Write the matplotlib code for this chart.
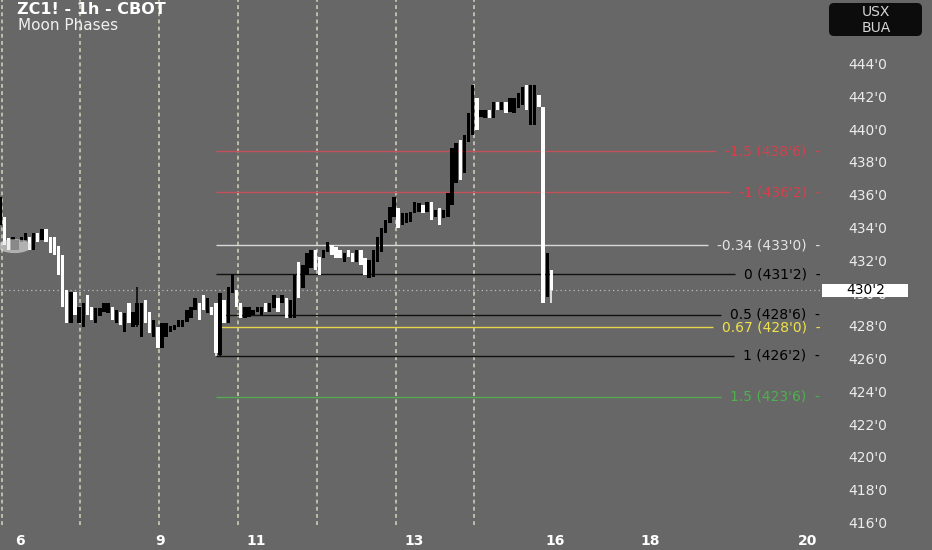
import matplotlib
matplotlib.use('Agg')
import matplotlib.pyplot as plt
import matplotlib.transforms as mtransforms
from matplotlib.patches import FancyBboxPatch, Rectangle, Ellipse

# ZC1! 1h candles (white = down bar, black = up bar)
opens = [434.24, 434.73, 433.45, 432.72, 432.72, 433.21, 433.33, 433.51, 432.72, 433.76,
         433.33, 434.00, 433.51, 433.51, 432.96, 432.41, 430.28, 428.26, 430.16, 428.26,
         428.02, 429.97, 429.24, 428.26, 428.69, 428.94, 428.87, 429.24, 428.26, 428.94,
         427.71, 429.48, 428.02, 428.14, 427.41, 429.67, 428.94, 427.41, 428.02, 426.74,
         427.41, 427.71, 427.84, 428.02, 428.02, 428.32, 428.57, 429.06, 429.48, 429.97,
         428.87, 429.24, 429.48, 426.31, 429.67, 428.26, 430.09, 430.28, 429.48, 428.57,
         428.63, 428.75, 428.94, 428.75, 429.48, 428.94, 429.18, 429.79, 429.48, 429.79,
         428.57, 428.57, 431.99, 430.40, 431.19, 431.62, 432.72, 432.29, 432.23, 432.60,
         433.02, 432.90, 432.72, 431.99, 432.72, 432.53, 431.99, 432.72, 432.23, 431.01,
         431.07, 431.99, 432.60, 433.76, 434.37, 434.73, 435.28, 434.24, 434.37, 434.43,
         434.98, 435.04, 435.46, 435.04, 435.65, 434.73, 435.28, 434.67, 434.73, 435.46,
         436.81, 439.43, 437.42, 439.31, 439.73, 441.99, 440.83, 440.77, 441.26, 440.77,
         441.75, 441.26, 441.75, 441.14, 441.08, 441.38, 441.56, 442.78, 440.34, 440.34,
         442.17, 441.44, 429.85, 431.50]
closes = [435.95, 433.02, 432.72, 433.51, 433.33, 433.51, 433.76, 432.72, 433.76, 433.21,
          434.00, 433.21, 432.53, 432.41, 431.19, 429.24, 428.26, 430.16, 428.75, 429.24,
          429.48, 428.75, 428.45, 429.18, 429.18, 429.48, 429.48, 428.45, 429.06, 428.14,
          428.87, 428.26, 428.94, 429.48, 429.48, 428.26, 427.65, 428.45, 426.74, 428.26,
          428.26, 428.08, 428.14, 428.45, 428.45, 429.06, 429.24, 429.79, 428.45, 429.06,
          429.79, 428.75, 426.43, 430.09, 428.26, 430.46, 431.19, 429.24, 428.57, 429.24,
          429.24, 429.06, 429.24, 429.24, 428.94, 429.48, 429.97, 428.94, 429.97, 428.57,
          429.67, 431.20, 429.79, 431.80, 432.53, 432.72, 431.50, 431.19, 432.72, 433.21,
          432.41, 432.23, 432.23, 432.53, 432.29, 431.99, 432.72, 431.80, 431.19, 432.11,
          432.72, 433.51, 434.06, 434.55, 435.34, 435.95, 434.06, 434.98, 434.98, 435.04,
          435.65, 435.59, 434.98, 435.65, 434.55, 435.16, 434.24, 435.16, 436.20, 438.94,
          439.25, 436.99, 439.73, 441.08, 442.78, 440.04, 441.26, 441.26, 440.77, 441.75,
          441.26, 441.75, 441.08, 441.99, 441.99, 442.30, 442.66, 441.26, 442.78, 442.78,
          441.44, 429.48, 432.53, 430.25]
# bars where the wick sticks out past the body
wick_highs = {33: 430.46, 56: 431.25}
wick_lows = {33: 428.02, 52: 426.25, 53: 426.25, 133: 429.48}

# fib extension anchored on the low bar
fib_start = 52
fib_ratios = [-1.5, -1, -0.34, 0, 0.5, 0.67, 1, 1.5]
fib_prices = [438.75, 436.25, 433.0, 431.25, 428.75, 428.0, 426.25, 423.75]
fib_text = ["438'6", "436'2", "433'0", "431'2", "428'6", "428'0", "426'2", "423'6"]
fib_line_colors = ['#c4505a', '#c4505a', '#d8d8d8', '#111111', '#111111', '#e3d64a', '#111111', '#55aa55']
fib_text_colors = ['#d4404c', '#d4404c', '#e4e4e4', '#000000', '#000000', '#efe24a', '#000000', '#4fb04f']

last_price = 430.25
last_text = "430'2"

# moon phase markers (bar positions)
phase_bars = [0.25, 19.3, 38.3, 57.4, 76.4, 95.4, 114.4]

price_ticks = [416, 418, 420, 422, 424, 426, 428, 430, 432, 434, 436, 438, 440, 442, 444]
day_labels = ['6', '9', '11', '13', '16', '18', '20']
day_bars = [4.7, 38.5, 61.7, 99.9, 134.0, 156.9, 194.8]

bg = '#676767'

fig = plt.figure(figsize=(9.32, 5.5), dpi=100, facecolor=bg)
ax = fig.add_axes([0, 0, 1, 1])
ax.set_facecolor(bg)
ax.set_xlim(-0.12, 224.9)
ax.set_ylim(414.41, 447.97)
ax.axis('off')

right = mtransforms.blended_transform_factory(ax.transAxes, ax.transData)
bottom = mtransforms.blended_transform_factory(ax.transData, ax.transAxes)
x_end = ax.get_xlim()[0] + 0.88 * (ax.get_xlim()[1] - ax.get_xlim()[0])

# moon phase lines
for b in phase_bars:
    ax.axvline(b, ymin=0.045, ymax=1, color='#cfcdb6', lw=1.2, ls=(0, (2.3, 2.0)), zorder=1)

# last price dotted line
ax.hlines(last_price, ax.get_xlim()[0], x_end, color='#bdbdbd', lw=0.9, ls=(0, (1, 2.5)), zorder=1)

# candles
for i in range(len(opens)):
    o, c = opens[i], closes[i]
    col = '#000000' if c >= o else '#ffffff'
    hi = wick_highs.get(i, max(o, c))
    lo = wick_lows.get(i, min(o, c))
    ax.vlines(i, lo, hi, color=col, lw=1.1, zorder=3)
    ax.bar(i, max(abs(c - o), 0.08), bottom=min(o, c), width=0.82, color=col, lw=0, zorder=3)

# light smudge at the left edge
ax.add_patch(Ellipse((3.4, 432.95), 8.0, 0.85, facecolor='#e4e4e4', edgecolor='none', alpha=0.6, zorder=3.5))

# fib levels: labels first, then lines that stop just short of them
fig.canvas.draw()
renderer = fig.canvas.get_renderer()
for r, p, t, lc, tc in zip(fib_ratios, fib_prices, fib_text, fib_line_colors, fib_text_colors):
    txt = ax.text(x_end, p, f"{r:g} ({t})  -", color=tc, fontsize=10, ha='right', va='center', zorder=4)
    bb = txt.get_window_extent(renderer)
    line_end = ax.transData.inverted().transform((bb.x0 - 9, 0))[0]
    ax.hlines(p, fib_start, line_end, color=lc, lw=1.0, zorder=2)

# price scale
for p in price_ticks:
    ax.text(0.931, p, f"{p}'0", transform=right, color='#ececec', fontsize=10,
            ha='center', va='center', zorder=4)
ax.add_patch(Rectangle((0.882, last_price - 0.40), 0.0923, 0.80, transform=right,
                       facecolor='white', edgecolor='none', zorder=5))
ax.text(0.929, last_price, last_text, transform=right, color='black', fontsize=10,
        ha='center', va='center', zorder=6)

# time scale
for b, d in zip(day_bars, day_labels):
    ax.text(b, 0.016, d, transform=bottom, color='white', fontsize=10, fontweight='bold',
            ha='center', va='center')

# header
fig.text(17 / 932, 1 - 9 / 550, "ZC1! - 1h - CBOT", color='white', fontsize=11.5,
         fontweight='bold', ha='left', va='center')
fig.text(18 / 932, 1 - 25 / 550, "Moon Phases", color='#f0f0f0', fontsize=11,
         ha='left', va='center')

# currency / unit box
fig.patches.append(FancyBboxPatch((8.29, 5.14), 0.93, 0.33, boxstyle='round,pad=0,rounding_size=0.05',
                                  transform=fig.dpi_scale_trans, facecolor='#0c0c0c',
                                  edgecolor='none', figure=fig))
fig.text(876 / 932, 1 - 12 / 550, "USX", color='#d6d6d6', fontsize=10, ha='center', va='center')
fig.text(876 / 932, 1 - 28 / 550, "BUA", color='#d6d6d6', fontsize=10, ha='center', va='center')

fig.savefig('out.png', dpi=100, facecolor=bg)
